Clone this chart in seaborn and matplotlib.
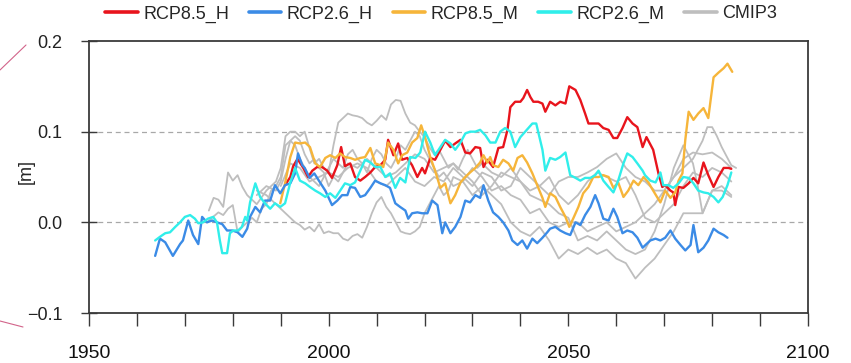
import numpy as np
import pandas as pd
import matplotlib
matplotlib.use("Agg")
import matplotlib.pyplot as plt
from matplotlib.lines import Line2D
import seaborn as sns

# ---------------- data ----------------
red_years = [1990.9,1992.0,1992.6,1993.5,1994.7,1995.7,1996.6,1997.6,1998.6,1999.7,2000.7,2001.8,2002.6,2003.4,2004.5,2005.5,2006.6,2007.6,2008.7,2009.7,2010.8,2011.8,2012.4,2013.5,2014.5,2015.3,2016.4,2017.4,2018.5,2019.5,2020.1,2021.2,2022.2,2023.3,2024.3,2025.4,2026.4,2027.5,2028.5,2029.5,2030.6,2031.6,2032.3,2033.1,2033.7,2034.3,2035.4,2036.4,2037.3,2037.9,2038.9,2040.0,2040.6,2041.4,2042.1,2042.7,2043.7,2044.6,2045.2,2046.2,2047.3,2048.3,2049.4,2050.2,2051.5,2052.5,2053.5,2054.2,2055.2,2056.3,2057.3,2058.4,2059.4,2060.2,2061.3,2062.3,2063.4,2064.4,2065.5,2066.3,2067.7,2068.8,2069.6,2070.2,2071.3,2071.9,2072.3,2073.0,2074.0,2075.1,2076.1,2077.1,2078.2,2079.2,2080.3,2081.3,2082.4,2083.4,2084.0]
red_vals = [0.041,0.050,0.062,0.070,0.060,0.050,0.057,0.061,0.061,0.057,0.049,0.063,0.083,0.062,0.065,0.050,0.046,0.050,0.055,0.061,0.063,0.069,0.091,0.074,0.087,0.069,0.071,0.063,0.050,0.060,0.054,0.071,0.069,0.080,0.090,0.083,0.087,0.091,0.077,0.076,0.083,0.082,0.061,0.069,0.065,0.061,0.082,0.083,0.102,0.127,0.133,0.133,0.137,0.146,0.138,0.133,0.133,0.131,0.122,0.133,0.129,0.133,0.131,0.150,0.146,0.135,0.120,0.109,0.109,0.109,0.104,0.102,0.093,0.093,0.104,0.116,0.109,0.105,0.083,0.094,0.080,0.054,0.039,0.041,0.035,0.033,0.019,0.039,0.038,0.043,0.049,0.043,0.066,0.052,0.039,0.050,0.060,0.060,0.059]

blue_years = [1963.8,1964.8,1965.9,1967.5,1969.0,1969.6,1970.7,1971.7,1972.8,1973.6,1974.6,1975.7,1976.7,1977.8,1978.8,1979.9,1981.0,1982.0,1983.0,1983.6,1984.7,1985.7,1986.7,1987.8,1988.8,1989.9,1990.9,1992.0,1993.0,1993.6,1994.5,1995.0,1996.0,1997.0,1998.2,1999.3,2000.7,2001.8,2002.8,2003.9,2004.5,2005.5,2006.6,2007.6,2008.7,2009.7,2010.8,2011.8,2012.8,2013.9,2014.9,2016.0,2016.6,2017.4,2018.5,2019.5,2020.6,2021.6,2022.7,2023.7,2024.3,2025.4,2026.4,2027.5,2028.5,2029.5,2030.6,2031.6,2032.3,2033.3,2034.3,2035.4,2036.4,2037.5,2038.3,2039.4,2040.4,2041.4,2042.5,2043.5,2044.6,2045.6,2046.2,2047.3,2048.3,2049.4,2050.4,2051.5,2052.5,2053.5,2054.6,2055.6,2056.3,2057.3,2058.4,2059.4,2060.2,2061.3,2062.3,2063.4,2064.4,2065.5,2066.1,2067.1,2068.2,2069.2,2070.2,2071.3,2072.3,2073.4,2074.4,2075.5,2076.1,2077.1,2078.2,2079.2,2080.3,2081.3,2082.4,2083.2]
blue_vals = [-0.037,-0.018,-0.022,-0.037,-0.024,-0.020,0.002,-0.014,-0.024,0.006,0.000,0.002,0.000,-0.002,-0.009,-0.009,-0.011,-0.016,-0.007,0.006,0.017,0.011,0.024,0.024,0.041,0.032,0.041,0.043,0.054,0.076,0.063,0.060,0.049,0.054,0.044,0.035,0.019,0.024,0.030,0.030,0.039,0.038,0.028,0.030,0.038,0.046,0.043,0.041,0.038,0.021,0.017,0.013,0.004,0.010,0.011,0.010,0.010,0.024,0.019,-0.012,0.000,-0.012,-0.005,0.006,0.024,0.022,0.030,0.027,0.041,0.024,0.011,0.006,0.000,-0.009,-0.020,-0.025,-0.020,-0.029,-0.018,-0.023,-0.017,-0.011,-0.007,-0.005,-0.009,-0.012,-0.014,0.000,-0.003,0.008,0.017,0.030,0.021,0.004,0.002,0.015,0.006,-0.012,-0.009,-0.011,-0.017,-0.028,-0.025,-0.020,-0.018,-0.020,-0.017,-0.009,-0.018,-0.025,-0.031,-0.025,-0.003,-0.033,-0.028,-0.020,-0.007,-0.011,-0.014,-0.017]

yellow_years = [1989.9,1990.9,1992.0,1993.0,1994.0,1995.1,1996.1,1997.2,1998.2,1999.3,2000.3,2001.4,2002.4,2003.4,2004.5,2005.5,2006.6,2007.6,2008.7,2009.7,2010.8,2011.4,2012.4,2013.5,2014.5,2015.3,2016.4,2017.4,2018.5,2019.3,2020.1,2021.2,2022.2,2023.3,2024.3,2025.4,2026.4,2027.5,2028.5,2029.5,2030.6,2031.6,2032.3,2033.1,2033.7,2034.3,2035.4,2036.4,2037.5,2038.5,2039.4,2040.4,2041.4,2042.5,2043.5,2044.6,2045.2,2046.2,2047.3,2048.3,2049.4,2050.2,2051.0,2052.1,2053.1,2054.2,2055.2,2056.3,2057.3,2058.4,2059.4,2060.4,2061.5,2062.5,2063.6,2064.6,2065.7,2066.7,2067.7,2068.5,2069.2,2070.2,2071.3,2072.3,2073.0,2073.8,2074.4,2075.1,2076.1,2077.1,2078.2,2079.2,2080.3,2081.3,2082.4,2083.2,2084.2]
yellow_vals = [0.021,0.043,0.072,0.088,0.087,0.088,0.083,0.065,0.061,0.071,0.074,0.071,0.076,0.072,0.071,0.069,0.071,0.072,0.082,0.065,0.063,0.061,0.088,0.080,0.065,0.074,0.077,0.088,0.093,0.107,0.094,0.072,0.057,0.038,0.043,0.021,0.030,0.044,0.050,0.055,0.060,0.066,0.074,0.066,0.072,0.063,0.061,0.069,0.065,0.057,0.071,0.074,0.066,0.054,0.041,0.027,0.017,0.032,0.028,0.017,0.006,-0.005,0.004,0.017,0.032,0.039,0.050,0.050,0.052,0.050,0.038,0.044,0.028,0.035,0.046,0.041,0.050,0.044,0.035,0.028,0.022,0.035,0.027,0.033,0.046,0.054,0.091,0.122,0.113,0.120,0.126,0.115,0.160,0.165,0.170,0.175,0.166]

cyan_years = [1963.8,1964.8,1965.9,1966.9,1968.0,1969.0,1970.0,1971.1,1972.1,1972.8,1973.8,1974.8,1975.9,1976.7,1977.3,1977.8,1978.8,1979.4,1980.1,1981.1,1981.9,1982.6,1983.0,1983.6,1984.7,1985.7,1986.7,1987.8,1988.8,1989.9,1990.9,1992.0,1993.0,1994.0,1995.1,1996.1,1997.2,1998.2,1999.3,2000.3,2001.4,2002.4,2003.4,2004.5,2005.5,2006.6,2007.6,2008.7,2009.7,2010.8,2011.8,2012.8,2013.9,2014.9,2016.0,2017.0,2018.1,2019.1,2020.1,2021.2,2022.2,2023.3,2024.3,2025.4,2026.4,2027.5,2028.5,2029.5,2030.6,2031.6,2032.7,2033.7,2034.8,2035.8,2036.8,2037.9,2038.9,2040.0,2041.0,2042.5,2043.3,2044.6,2045.2,2046.2,2047.3,2048.3,2049.4,2050.4,2051.5,2052.5,2053.5,2054.6,2055.6,2056.3,2057.3,2058.4,2059.4,2060.4,2061.5,2062.3,2063.4,2064.4,2065.5,2066.0,2067.1,2068.2,2069.2,2069.8,2070.9,2071.9,2073.0,2074.0,2075.1,2076.1,2077.1,2078.2,2079.2,2080.3,2081.3,2082.2,2083.2,2084.0]
cyan_vals = [-0.020,-0.016,-0.012,-0.011,-0.005,0.000,0.006,0.008,0.004,-0.001,0.000,0.004,0.006,0.000,-0.020,-0.034,-0.034,-0.012,-0.009,-0.009,-0.005,0.006,0.002,0.022,0.043,0.028,0.021,0.015,0.021,0.017,0.021,0.044,0.060,0.046,0.043,0.039,0.035,0.032,0.028,0.032,0.027,0.035,0.043,0.041,0.044,0.057,0.069,0.066,0.061,0.061,0.050,0.054,0.038,0.049,0.044,0.072,0.071,0.077,0.100,0.088,0.074,0.083,0.091,0.087,0.080,0.088,0.098,0.100,0.100,0.102,0.096,0.088,0.088,0.100,0.104,0.100,0.083,0.094,0.100,0.109,0.109,0.080,0.057,0.071,0.069,0.072,0.077,0.052,0.049,0.046,0.049,0.049,0.052,0.057,0.046,0.039,0.033,0.046,0.065,0.076,0.072,0.065,0.057,0.052,0.046,0.044,0.055,0.041,0.041,0.038,0.043,0.050,0.049,0.043,0.035,0.033,0.032,0.028,0.022,0.028,0.041,0.055]

g1_years = [1975,1976,1977,1978,1979,1980,1981,1982,1983,1985,1987,1989,1990,1991,1992,1993,1994,1995,1996,1997,1998,1999,2000,2001,2002,2003,2004,2005,2006,2007,2008,2009,2010,2011,2012,2013,2014,2015,2016,2017,2018,2019,2020,2021,2022,2023,2024,2025,2026,2027,2028,2029,2030,2031,2032,2034,2036,2038,2040,2042,2044,2046,2048,2050,2052,2054,2056,2058,2060,2062,2064,2066,2068,2070,2072,2074,2076,2078,2079,2080,2081,2082,2084,2085]
g1_vals = [0.013,0.027,0.025,0.017,0.055,0.046,0.052,0.039,0.030,0.020,0.035,0.045,0.060,0.095,0.100,0.100,0.095,0.100,0.082,0.065,0.070,0.060,0.055,0.085,0.110,0.115,0.120,0.118,0.117,0.115,0.110,0.107,0.112,0.118,0.113,0.130,0.135,0.134,0.120,0.110,0.107,0.100,0.094,0.083,0.075,0.080,0.070,0.060,0.065,0.058,0.070,0.080,0.070,0.060,0.065,0.055,0.050,0.060,0.045,0.035,0.040,0.030,0.045,0.050,0.050,0.055,0.061,0.070,0.076,0.060,0.050,0.045,0.035,0.035,0.050,0.060,0.070,0.090,0.105,0.105,0.095,0.083,0.063,0.060]

g2_years = [1975,1977,1978,1979,1980,1981,1982,1983,1984,1985,1986,1987,1988,1989,1990,1991,1992,1993,1994,1995,1996,1997,1998,1999,2000,2001,2002,2003,2004,2005,2006,2007,2008,2009,2010,2011,2012,2013,2014,2015,2016,2017,2018,2019,2020,2021,2022,2023,2024,2026,2028,2030,2032,2034,2036,2038,2040,2042,2044,2046,2048,2050,2052,2054,2056,2058,2060,2062,2064,2066,2068,2070,2072,2074,2076,2078,2080,2082,2084]
g2_vals = [0.002,0.011,0.008,0.015,0.019,-0.011,-0.005,0.000,0.005,0.000,0.015,0.020,0.035,0.040,0.050,0.085,0.090,0.085,0.070,0.060,0.050,0.045,0.040,0.050,0.060,0.070,0.065,0.060,0.075,0.080,0.070,0.065,0.055,0.070,0.080,0.075,0.065,0.060,0.070,0.085,0.080,0.090,0.100,0.095,0.080,0.070,0.060,0.050,0.055,0.040,0.045,0.060,0.050,0.035,0.040,0.030,0.025,0.010,0.015,0.000,-0.005,0.000,0.000,-0.010,-0.005,0.000,-0.010,-0.005,0.000,0.010,0.020,0.035,0.050,0.070,0.077,0.075,0.077,0.070,0.060]

g3_years = [1985,1987,1989,1990,1991,1992,1993,1994,1995,1996,1997,1998,1999,2000,2001,2002,2003,2004,2005,2006,2007,2008,2009,2010,2011,2012,2013,2014,2015,2016,2017,2018,2019,2020,2021,2022,2023,2024,2025,2026,2028,2030,2032,2034,2036,2038,2040,2042,2044,2046,2048,2050,2052,2054,2056,2058,2060,2062,2064,2066,2068,2070,2072,2074,2076,2078,2080,2082,2084]
g3_vals = [0.035,0.030,0.020,0.015,0.010,0.005,0.000,-0.003,-0.008,-0.005,-0.010,-0.002,-0.012,-0.010,-0.012,-0.012,-0.018,-0.020,-0.015,-0.013,-0.017,-0.005,0.010,0.022,0.028,0.017,0.010,0.000,-0.010,-0.012,-0.013,-0.010,-0.005,0.010,0.020,0.030,0.040,0.030,0.035,0.050,0.045,0.030,0.040,0.030,0.020,0.000,-0.010,-0.015,-0.005,-0.020,-0.040,-0.030,-0.035,-0.028,-0.035,-0.030,-0.040,-0.045,-0.062,-0.050,-0.040,-0.025,-0.010,0.010,0.010,0.010,0.035,0.035,0.028]

g4_years = [1985,1987,1989,1990,1991,1992,1993,1994,1995,1996,1997,1998,1999,2000,2001,2002,2003,2004,2006,2008,2010,2012,2014,2016,2018,2020,2022,2024,2026,2028,2030,2032,2034,2036,2038,2040,2042,2044,2046,2048,2050,2052,2054,2056,2058,2060,2062,2064,2066,2068,2070,2072,2074,2076,2077,2078,2080,2082,2084]
g4_vals = [0.030,0.040,0.035,0.045,0.070,0.090,0.095,0.090,0.075,0.065,0.070,0.060,0.055,0.040,0.050,0.045,0.055,0.065,0.060,0.070,0.060,0.050,0.055,0.065,0.075,0.070,0.055,0.060,0.065,0.055,0.045,0.030,0.040,0.055,0.050,0.045,0.030,0.025,0.020,0.010,0.005,-0.020,-0.015,-0.020,-0.010,-0.020,-0.030,-0.035,-0.030,-0.010,0.020,0.060,0.085,0.065,0.040,0.010,0.035,0.040,0.030]

g5_years = [1990,1992,1994,1996,1998,2000,2002,2004,2006,2008,2010,2012,2014,2016,2018,2020,2022,2024,2026,2028,2030,2032,2034,2036,2038,2040,2042,2044,2046,2048,2050,2052,2054,2056,2058,2060,2062,2064,2066,2068,2070,2072,2074,2076,2078,2080,2082,2084]
g5_vals = [0.040,0.065,0.060,0.045,0.050,0.055,0.050,0.060,0.065,0.060,0.045,0.040,0.050,0.060,0.045,0.040,0.050,0.045,0.060,0.050,0.040,0.055,0.050,0.035,0.040,0.060,0.050,0.040,0.050,0.030,0.020,0.030,0.045,0.055,0.050,0.045,0.050,0.030,0.005,0.000,0.010,0.020,0.040,0.055,0.050,0.060,0.055,0.045]

grey_years = [g1_years, g2_years, g3_years, g4_years, g5_years]
grey_vals = [g1_vals, g2_vals, g3_vals, g4_vals, g5_vals]

series_labels = ["RCP8.5_H", "RCP2.6_H", "RCP8.5_M", "RCP2.6_M", "CMIP3"]
x_ticks_major = [1950, 2000, 2050, 2100]
y_ticks = [-0.1, 0.0, 0.1, 0.2]

# ---------------- style ----------------
sns.set_theme(style="white")
plt.rcParams["font.family"] = ["Liberation Sans", "DejaVu Sans"]
plt.rcParams["axes.unicode_minus"] = True

RED = "#E8141C"
BLUE = "#3B8BE6"
YELLOW = "#F6B53A"
CYAN = "#30EEEA"
GREY = "#BEBEBE"
FRAME = "#3A3A3A"

fig = plt.figure(figsize=(8.51, 3.63), dpi=100)
ax = fig.add_axes([89/851, 1 - 313/363, (808-89)/851, (313-41)/363])

for i, (yy, vv) in enumerate(zip(grey_years, grey_vals)):
    sns.lineplot(x=yy, y=vv, ax=ax, color=GREY, lw=1.3,
                 label=series_labels[4] if i == 0 else None, legend=False)

sns.lineplot(x=red_years, y=red_vals, ax=ax, color=RED, lw=1.7, label=series_labels[0], legend=False)
sns.lineplot(x=yellow_years, y=yellow_vals, ax=ax, color=YELLOW, lw=1.7, label=series_labels[2], legend=False)
sns.lineplot(x=blue_years, y=blue_vals, ax=ax, color=BLUE, lw=1.7, label=series_labels[1], legend=False)
sns.lineplot(x=cyan_years, y=cyan_vals, ax=ax, color=CYAN, lw=1.7, label=series_labels[3], legend=False)

ax.set_xlim(1950, 2100)
ax.set_ylim(-0.1, 0.2)

for v in (0.0, 0.1):
    ax.axhline(v, color="#A8A8A8", lw=0.9, ls=(0, (4, 3)), zorder=0)

ax.set_xticks(x_ticks_major)
ax.set_xticks(np.arange(1950, 2101, 10), minor=True)
ax.set_xticklabels([str(t) for t in x_ticks_major], fontsize=14)
ax.set_yticks(y_ticks)
ax.set_yticklabels(["\u22120.1", "0.0", "0.1", "0.2"], fontsize=13, color="#222222")
ax.tick_params(axis="x", which="both", direction="out", length=9, width=1.0,
               color=FRAME, bottom=True, pad=14, labelcolor="#111111")
ax.tick_params(axis="y", which="both", direction="inout", length=12, width=1.0,
               color=FRAME, left=True, pad=13)
for s in ax.spines.values():
    s.set_color(FRAME)
    s.set_linewidth(1.3)

ax.set_xlabel("")
ax.set_ylabel("[m]", fontsize=13)
ax.yaxis.set_label_coords(-0.075, 0.52)

# legend above plot
handles, labels = ax.get_legend_handles_labels()
order = [labels.index(l) for l in series_labels]
hs = [Line2D([0], [0], color=handles[i].get_color(), lw=2.6) for i in order]
leg = fig.legend(hs, series_labels, loc="center", bbox_to_anchor=(441/851, 1 - 14/363),
                 ncol=5, frameon=False, fontsize=13, handlelength=1.8,
                 handletextpad=0.3, columnspacing=1.1)

# decorative slide lines on the left
fig.add_artist(Line2D([0/851, 26/851], [1 - 70/363, 1 - 45/363], color="#D2648A", lw=0.8))
fig.add_artist(Line2D([0/851, 23/851], [1 - 321/363, 1 - 327/363], color="#D2648A", lw=0.8))

fig.savefig("out.png", dpi=100)
